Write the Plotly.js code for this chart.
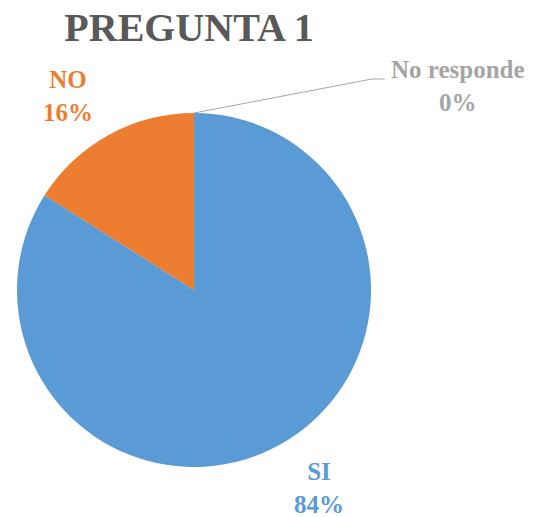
<!DOCTYPE html>
<html><head><meta charset="utf-8">
<script src="https://cdn.plot.ly/plotly-3.0.1.min.js"></script>
<style>html,body{margin:0;padding:0;background:#fff}#chart{width:534px;height:517px}</style>
</head><body><div id="chart"></div>
<script>
var categories = ["SI", "NO", "No responde"];
var values = [84, 16, 0];
var percentLabels = ["84%", "16%", "0%"];
var colors = ["#5B9BD5", "#ED7D31", "#A5A5A5"];

var W = 534, H = 517;
var cx = 194, cy = 290, r = 177;
var font = "Liberation Serif, Times New Roman, serif";

var trace = {
  type: "pie",
  labels: categories,
  values: values,
  sort: false,
  direction: "clockwise",
  rotation: 0,
  textinfo: "none",
  hoverinfo: "label+percent",
  marker: {colors: colors, line: {width: 0}},
  domain: {x: [(cx - r) / W, (cx + r) / W], y: [(H - cy - r) / H, (H - cy + r) / H]},
  showlegend: false
};

function px(x) { return x / W; }
function py(y) { return 1 - y / H; }

var labelPos = [[319, 488], [68, 96], [458, 86]];
var annotations = categories.map(function (c, i) {
  return {
    xref: "paper", yref: "paper",
    x: px(labelPos[i][0]), y: py(labelPos[i][1]),
    xanchor: "center", yanchor: "middle",
    text: "<b>" + c + "</b><br><b>" + percentLabels[i] + "</b>",
    showarrow: false,
    font: {family: font, size: 25, color: colors[i]}
  };
});

var layout = {
  width: W, height: H,
  margin: {l: 0, r: 0, t: 0, b: 0},
  paper_bgcolor: "#fff",
  title: {
    text: "<b>PREGUNTA 1</b>",
    font: {family: font, size: 40, color: "#595959"},
    x: px(189), xanchor: "center",
    y: py(27), yanchor: "middle"
  },
  annotations: annotations,
  shapes: [{
    type: "path", xref: "paper", yref: "paper",
    path: "M " + px(cx) + " " + py(cy - r) + " L " + px(372) + " " + py(79) + " L " + px(385) + " " + py(79),
    line: {color: "#A6A6A6", width: 1}
  }]
};

Plotly.newPlot("chart", [trace], layout, {displayModeBar: false, staticPlot: true});
</script></body></html>
